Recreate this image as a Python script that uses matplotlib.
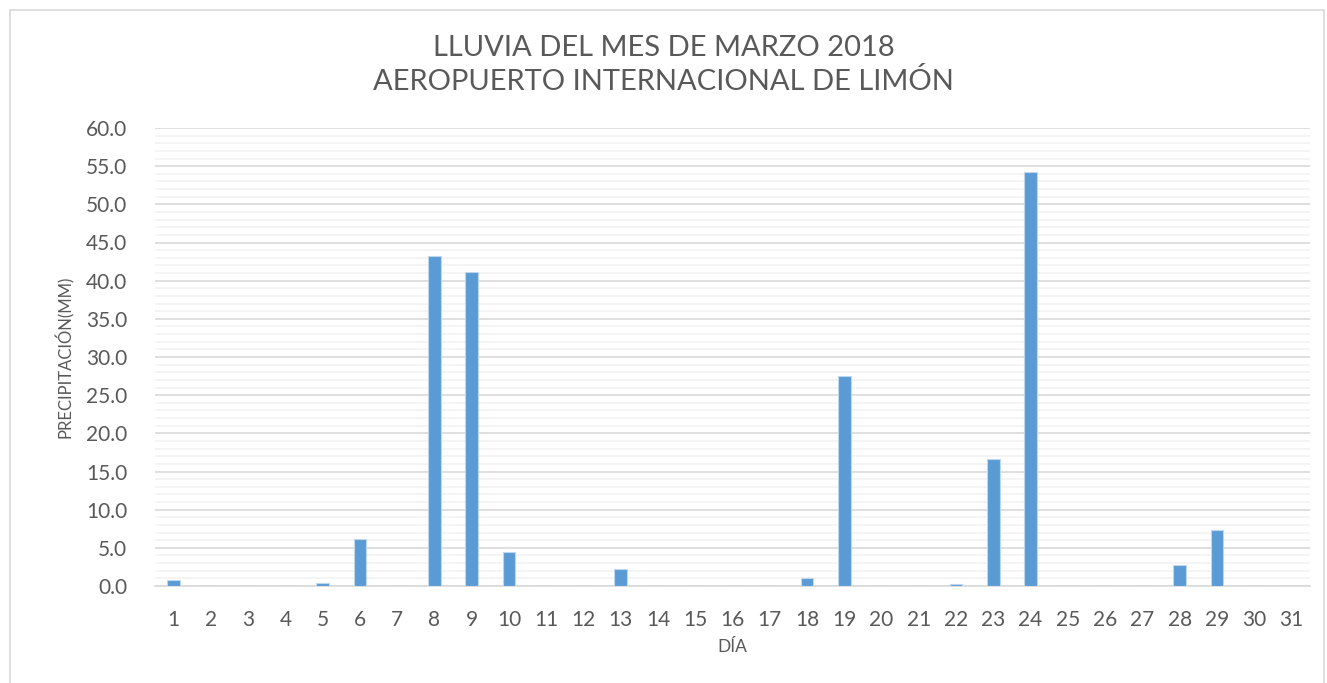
import numpy as np
import matplotlib.pyplot as plt
from matplotlib.patches import Rectangle

dias = np.arange(1, 32)
lluvia = [0.8, 0, 0, 0, 0.4, 6.2, 0, 43.2, 41.2, 4.4, 0, 0, 2.2, 0, 0, 0, 0, 1.0,
          27.5, 0, 0, 0.3, 16.6, 54.3, 0, 0, 0, 2.7, 7.3, 0, 0]
yticks = np.arange(0, 61, 5)

plt.rcParams['font.family'] = ['Lato', 'DejaVu Sans']
gris = '#595959'

fig = plt.figure(figsize=(13.27, 6.83), dpi=100)
ax = fig.add_axes([155 / 1327, 1 - 586 / 683, 1155 / 1327, 458 / 683])

# marco exterior
fig.patches.append(Rectangle((10 / 1327, -0.01), 1314 / 1327, 1 - 10 / 683 + 0.01,
                             transform=fig.transFigure, fill=False,
                             edgecolor='#d9d9d9', linewidth=1.2))

ax.bar(dias, lluvia, width=0.34, color='#5b9bd5', edgecolor='#bdd7ee',
       linewidth=0.8, zorder=3)

ax.set_xlim(0.5, 31.5)
ax.set_ylim(0, 60)
ax.set_yticks(yticks)
ax.set_yticklabels([f'{v:.1f}' for v in yticks])
ax.set_yticks(np.arange(0, 61, 1), minor=True)
ax.set_xticks(dias)
ax.grid(axis='y', which='major', color='#d9d9d9', linewidth=1.2, zorder=0)
ax.grid(axis='y', which='minor', color='#f2f2f2', linewidth=1.2, zorder=0)
ax.tick_params(axis='both', which='both', length=0, labelsize=15, colors=gris)
ax.tick_params(axis='y', pad=20)
ax.tick_params(axis='x', pad=17)

for lado in ['top', 'right', 'left']:
    ax.spines[lado].set_visible(False)
ax.spines['bottom'].set_color('#d9d9d9')
ax.spines['bottom'].set_linewidth(1.2)

ax.set_xlabel('DÍA', fontsize=12.5, color=gris, labelpad=7)
ax.set_ylabel('PRECIPITACIÓN(MM)', fontsize=12, color=gris, labelpad=9)
fig.text(0.5, 1 - 65 / 683, 'LLUVIA DEL MES DE MARZO 2018\nAEROPUERTO INTERNACIONAL DE LIMÓN',
         ha='center', va='center', fontsize=21, color=gris, linespacing=1.3)

fig.savefig('out.png', dpi=100)
